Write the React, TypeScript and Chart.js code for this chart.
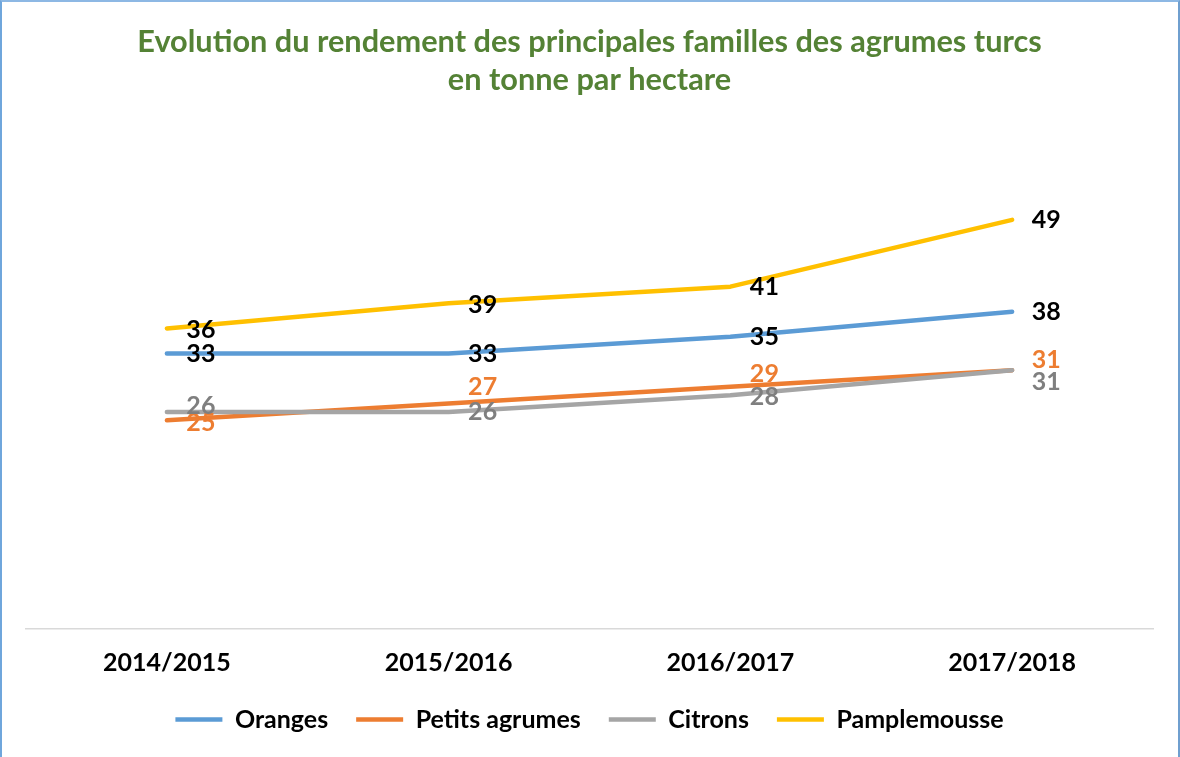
import React, { useEffect, useRef } from "react";
import { Chart, registerables } from "chart.js";

Chart.register(...registerables);

const categories = ["2014/2015", "2015/2016", "2016/2017", "2017/2018"];
const seriesNames = ["Oranges", "Petits agrumes", "Citrons", "Pamplemousse"];
const oranges = [33, 33, 35, 38];
const petitsAgrumes = [25, 27, 29, 31];
const citrons = [26, 26, 28, 31];
const pamplemousse = [36, 39, 41, 49];
const titleLines = [
  "Evolution du rendement des principales familles des agrumes turcs",
  "en tonne par hectare",
];

const FONT = "Lato, 'Open Sans', sans-serif";

const labelPlugin = {
  id: "pointLabels",
  afterDatasetsDraw(chart: any) {
    const ctx = chart.ctx;
    ctx.save();
    ctx.font = `bold 25px ${FONT}`;
    ctx.textAlign = "center";
    ctx.textBaseline = "middle";
    chart.data.datasets.forEach((ds: any, di: number) => {
      const meta = chart.getDatasetMeta(di);
      meta.data.forEach((pt: any, i: number) => {
        const dy = (ds.labelDy && ds.labelDy[i]) || 0;
        ctx.fillStyle = ds.labelColor;
        ctx.fillText(String(ds.data[i]), pt.x + 34, pt.y + dy);
      });
    });
    ctx.restore();
  },
};

export default function App() {
  const ref = useRef<HTMLCanvasElement | null>(null);
  useEffect(() => {
    if (!ref.current) return;
    const mk = (label: string, data: number[], color: string, labelColor: string, labelDy: number[], order: number) => ({
      label,
      data,
      borderColor: color,
      backgroundColor: color,
      borderWidth: 4.5,
      borderCapStyle: "round",
      borderJoinStyle: "round",
      pointRadius: 0,
      tension: 0,
      order,
      labelColor,
      labelDy,
    });
    const chart = new Chart(ref.current, {
      type: "line",
      data: {
        labels: categories,
        datasets: [
          mk(seriesNames[0], oranges, "#5B9BD5", "#000000", [0, 0, 0, 0], 3),
          mk(seriesNames[1], petitsAgrumes, "#ED7D31", "#ED7D31", [3, -17, -13, -10], 2),
          mk(seriesNames[2], citrons, "#A5A5A5", "#7F7F7F", [-6, 0, 2, 12], 1),
          mk(seriesNames[3], pamplemousse, "#FFC000", "#000000", [2, 2, 0, 0], 0),
        ] as any,
      },
      options: {
        animation: false,
        responsive: false,
        maintainAspectRatio: false,
        layout: { padding: { left: 26, right: 27, top: 0, bottom: 15 } },
        plugins: {
          title: {
            display: true,
            text: titleLines,
            color: "#548235",
            font: { family: FONT, size: 30.7, weight: "bold", lineHeight: 38 / 30.7 },
            padding: { top: 23, bottom: 29 },
          },
          legend: {
            display: true,
            position: "bottom",
            labels: {
              sort: (a: any, b: any) => a.datasetIndex - b.datasetIndex,
              color: "#000000",
              font: { family: FONT, size: 25, weight: "bold" },
              usePointStyle: true,
              pointStyle: "line",
              pointStyleWidth: 47,
              boxWidth: 47,
              boxHeight: 25,
              padding: 28,
            },
          },
          tooltip: { enabled: false },
        },
        scales: {
          x: {
            offset: true,
            grid: { display: false, drawTicks: false },
            border: { display: true, color: "#D9D9D9", width: 1.5 },
            ticks: {
              color: "#000000",
              font: { family: FONT, size: 25, weight: "bold" },
              padding: 19,
              maxRotation: 0,
            },
            afterFit: (s: any) => {
              s.height = 50;
            },
          },
          y: {
            display: false,
            min: 0,
            max: 60,
          },
        },
      },
      plugins: [labelPlugin],
    } as any);
    return () => chart.destroy();
  }, []);

  return (
    <div style={{ position: "fixed", left: 0, top: 0, width: 1180, height: 757, background: "#fff" }}>
      <canvas ref={ref} width={1180} height={757} style={{ display: "block" }} />
      <div
        style={{
          position: "absolute",
          left: 0,
          top: 0,
          width: 1180,
          height: 757,
          boxSizing: "border-box",
          borderTop: "2px solid #8DB8E4",
          borderLeft: "2px solid #6FA6DC",
          borderRight: "2px solid #6F9FCF",
          pointerEvents: "none",
        }}
      />
    </div>
  );
}
